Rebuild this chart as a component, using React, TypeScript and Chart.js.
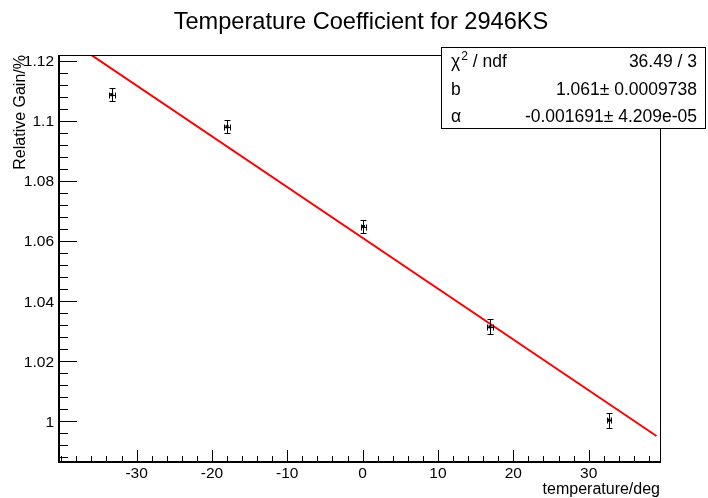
import React, { useEffect, useRef } from "react";
import { Chart, registerables } from "chart.js";

Chart.register(...registerables);

// ---- data ----
const temperatures = [-33.3, -18.0, 0.1, 16.9, 32.7];
const relativeGain = [1.1087, 1.098, 1.0648, 1.0314, 1.0003];
const temperatureErr = [0.4, 0.4, 0.3, 0.45, 0.3];
const gainErr = [0.0022, 0.0022, 0.0022, 0.0025, 0.0025];

// fit: gain = b + alpha * T
const fitB = 1.061;
const fitAlpha = -0.001691;
const fitRange = [-40.3, 39.0];

const xRange = [-40.3, 39.6];
const yRange = [0.9864, 1.1219];
const xMajorTicks = [-30, -20, -10, 0, 10, 20, 30];
const yMajorTicks = [1, 1.02, 1.04, 1.06, 1.08, 1.1, 1.12];
const xMinorStep = 2;
const yMinorStep = 0.004;

const titleText = "Temperature Coefficient for 2946KS";
const xTitle = "temperature/deg";
const yTitle = "Relative Gain/%";
const statNames = ["χ2 / ndf", "b", "α"];
const statValues = ["36.49 / 3", "1.061± 0.0009738", "-0.001691± 4.209e-05"];

const FONT = '"Liberation Sans", Arial, Helvetica, sans-serif';

function fmt(v: number): string {
  return String(parseFloat(v.toFixed(4)));
}

function minorValues(min: number, max: number, step: number): number[] {
  const out: number[] = [];
  const k0 = Math.ceil(min / step - 1e-9);
  const k1 = Math.floor(max / step + 1e-9);
  for (let k = k0; k <= k1; k++) out.push(k * step);
  return out;
}

const rootPlugin = {
  id: "rootStyle",
  beforeDraw(chart: any) {
    const ctx = chart.ctx;
    ctx.save();
    ctx.fillStyle = "#fff";
    ctx.fillRect(0, 0, chart.width, chart.height);
    ctx.restore();
  },
  afterDatasetsDraw(chart: any) {
    const { ctx, scales } = chart;
    const x = scales.x;
    const y = scales.y;
    ctx.save();
    ctx.strokeStyle = "#000";
    ctx.lineWidth = 1;
    for (let i = 0; i < temperatures.length; i++) {
      const px = Math.round(x.getPixelForValue(temperatures[i])) + 0.5;
      const py = Math.round(y.getPixelForValue(relativeGain[i])) + 0.5;
      const yTop = Math.round(y.getPixelForValue(relativeGain[i] + gainErr[i])) + 0.5;
      const yBot = Math.round(y.getPixelForValue(relativeGain[i] - gainErr[i])) + 0.5;
      const xL = Math.round(x.getPixelForValue(temperatures[i] - temperatureErr[i])) + 0.5;
      const xR = Math.round(x.getPixelForValue(temperatures[i] + temperatureErr[i])) + 0.5;
      ctx.beginPath();
      ctx.moveTo(px, yTop);
      ctx.lineTo(px, yBot);
      ctx.moveTo(px - 3, yTop);
      ctx.lineTo(px + 3, yTop);
      ctx.moveTo(px - 3, yBot);
      ctx.lineTo(px + 3, yBot);
      ctx.moveTo(xL, py);
      ctx.lineTo(xR, py);
      ctx.moveTo(xL, py - 3);
      ctx.lineTo(xL, py + 3);
      ctx.moveTo(xR, py - 3);
      ctx.lineTo(xR, py + 3);
      ctx.stroke();
    }
    ctx.restore();
  },
  afterDraw(chart: any) {
    const { ctx, chartArea: a, scales } = chart;
    const x = scales.x;
    const y = scales.y;
    ctx.save();
    ctx.fillStyle = "#000";
    ctx.strokeStyle = "#000";

    // frame (top, right thin)
    ctx.lineWidth = 1;
    ctx.beginPath();
    ctx.moveTo(a.left, a.top + 0.5);
    ctx.lineTo(a.right, a.top + 0.5);
    ctx.moveTo(a.right - 0.5, a.top);
    ctx.lineTo(a.right - 0.5, a.bottom);
    ctx.stroke();
    // axes (left, bottom)
    ctx.fillRect(a.left - 1, a.top, 2, a.bottom - a.top + 1);
    ctx.fillRect(a.left - 1, a.bottom - 1, a.right - a.left + 1, 2);

    // ticks
    ctx.lineWidth = 1;
    ctx.beginPath();
    for (const v of minorValues(y.min, y.max, yMinorStep)) {
      const isMajor = yMajorTicks.some((m) => Math.abs(m - v) < 1e-6);
      const py = Math.round(y.getPixelForValue(v)) + 0.5;
      ctx.moveTo(a.left, py);
      ctx.lineTo(a.left + (isMajor ? 18 : 9), py);
    }
    for (const v of minorValues(x.min, x.max, xMinorStep)) {
      const isMajor = xMajorTicks.some((m) => Math.abs(m - v) < 1e-6);
      const px = Math.round(x.getPixelForValue(v)) + 0.5;
      ctx.moveTo(px, a.bottom);
      ctx.lineTo(px, a.bottom - (isMajor ? 12 : 6));
    }
    ctx.stroke();

    // tick labels
    ctx.font = `15.5px ${FONT}`;
    ctx.textBaseline = "alphabetic";
    ctx.textAlign = "right";
    for (const v of yMajorTicks) {
      const py = y.getPixelForValue(v);
      ctx.fillText(fmt(v), a.left - 5, py + 5.5);
    }
    ctx.textAlign = "center";
    for (const v of xMajorTicks) {
      const px = x.getPixelForValue(v);
      ctx.fillText(fmt(v), px, a.bottom + 16);
    }

    // axis titles
    ctx.font = `16px ${FONT}`;
    ctx.textAlign = "right";
    ctx.fillText(xTitle, a.right - 1, 494);
    ctx.save();
    ctx.translate(25, a.top);
    ctx.rotate(-Math.PI / 2);
    ctx.textAlign = "right";
    ctx.fillText(yTitle, 0, 0);
    ctx.restore();

    // title
    ctx.font = `23.6px ${FONT}`;
    ctx.textAlign = "center";
    ctx.fillText(titleText, 361, 29);

    // stats box
    const bx = 441, by = 47, bw = 265, bh = 82;
    ctx.fillStyle = "#fff";
    ctx.fillRect(bx, by, bw, bh);
    ctx.strokeStyle = "#000";
    ctx.lineWidth = 1;
    ctx.strokeRect(bx + 0.5, by + 0.5, bw - 1, bh - 1);
    ctx.fillStyle = "#000";
    const rowH = bh / statNames.length;
    const statFont = `17.5px ${FONT}`;
    for (let i = 0; i < statNames.length; i++) {
      const base = by + rowH * (i + 0.5) + 6.5;
      ctx.font = statFont;
      ctx.textAlign = "left";
      const name = statNames[i];
      if (name.startsWith("χ2")) {
        ctx.fillText("χ", bx + 10, base);
        const w1 = ctx.measureText("χ").width;
        ctx.font = `12px ${FONT}`;
        ctx.fillText("2", bx + 10 + w1 + 1, base - 7.5);
        const w2 = ctx.measureText("2").width;
        ctx.font = statFont;
        ctx.fillText(name.slice(2), bx + 10 + w1 + 1 + w2, base);
      } else {
        ctx.fillText(name, bx + 10, base);
      }
      ctx.textAlign = "right";
      ctx.fillText(statValues[i], bx + bw - 9, base);
    }
    ctx.restore();
  },
};

export default function App() {
  const canvasRef = useRef<HTMLCanvasElement | null>(null);

  useEffect(() => {
    document.body.style.margin = "0";
    const canvas = canvasRef.current;
    if (!canvas) return;
    const points = temperatures.map((t, i) => ({ x: t, y: relativeGain[i] }));
    const fitLine = fitRange.map((t) => ({ x: t, y: fitB + fitAlpha * t }));
    const chart = new Chart(canvas, {
      type: "scatter",
      data: {
        datasets: [
          {
            label: "data",
            data: points,
            pointStyle: "rect",
            pointRadius: 2.2,
            pointBackgroundColor: "#000",
            pointBorderColor: "#000",
            pointBorderWidth: 0,
            showLine: false,
          },
          {
            label: "fit",
            data: fitLine,
            showLine: true,
            borderColor: "#ff0000",
            borderWidth: 2,
            pointRadius: 0,
            fill: false,
          },
        ],
      },
      options: {
        animation: false,
        responsive: false,
        devicePixelRatio: 1,
        layout: { padding: { left: 59, top: 55, right: 47, bottom: 36 } },
        plugins: {
          legend: { display: false },
          tooltip: { enabled: false },
          title: { display: false },
        },
        scales: {
          x: { type: "linear", display: false, min: xRange[0], max: xRange[1] },
          y: { type: "linear", display: false, min: yRange[0], max: yRange[1] },
        },
      },
      plugins: [rootPlugin],
    });
    return () => chart.destroy();
  }, []);

  return (
    <div style={{ position: "fixed", left: 0, top: 0, width: 708, height: 498, background: "#fff" }}>
      <canvas ref={canvasRef} width={708} height={498} style={{ width: 708, height: 498, display: "block" }} />
    </div>
  );
}
